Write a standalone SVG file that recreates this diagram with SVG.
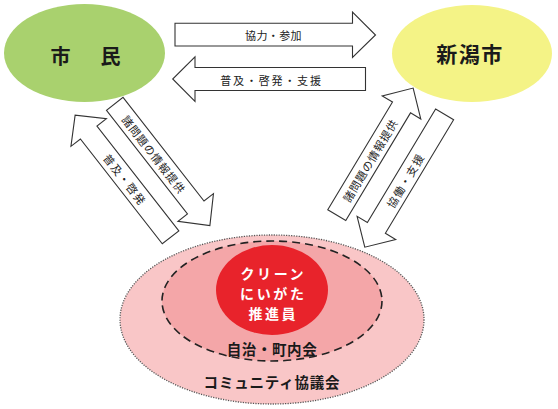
<svg xmlns="http://www.w3.org/2000/svg" width="558" height="409" viewBox="0 0 558 409">
<style>
.arrow{fill:#ffffff;stroke:#333333;stroke-width:1.1;stroke-linejoin:miter}
.lbl{font-family:"Noto Sans CJK JP","Noto Sans",sans-serif;font-size:11px;fill:#222222;text-anchor:middle;dominant-baseline:central}
.title{font-family:"Noto Sans CJK JP","Noto Sans",sans-serif;font-weight:bold;fill:#1a1a1a;text-anchor:middle;dominant-baseline:central}
.white{fill:#ffffff}
</style>
<rect width="558" height="409" fill="#ffffff"/>
<g id="shimin">
<ellipse cx="84.5" cy="53" rx="80.5" ry="49" fill="#a9d16e"/>
<text class="title" x="88" y="55" font-size="20" letter-spacing="5">市　民</text>
</g>
<g id="niigatashi">
<ellipse cx="472" cy="53.5" rx="80" ry="48.5" fill="#f4f386"/>
<text class="title" x="470" y="53" font-size="21" letter-spacing="1.5">新潟市</text>
</g>
<g id="community">
<ellipse cx="272" cy="319.5" rx="152" ry="84.5" fill="#f9c6c7" stroke="#555555" stroke-width="1.3" stroke-dasharray="1.2,1.3"/>
<text class="title" x="272" y="381" font-size="14.5" letter-spacing="0.8">コミュニティ協議会</text>
</g>
<g id="jichikai">
<ellipse cx="272" cy="301" rx="110" ry="60" fill="#f4a6a8" stroke="#222222" stroke-width="1.6" stroke-dasharray="8,5"/>
<text class="title" x="272" y="348" font-size="14.5" letter-spacing="0.6">自治・町内会</text>
</g>
<g id="clean">
<ellipse cx="272" cy="290" rx="56" ry="45" fill="#e8232b"/>
<text class="title white" font-size="14" letter-spacing="2.6"><tspan x="273.3" y="272.6">クリーン</tspan><tspan x="273.3" y="293">にいがた</tspan><tspan x="273.3" y="313.4">推進員</tspan></text>
</g>
<g id="connectors">
<g id="arrow-kyoryoku">
<polygon class="arrow" points="175,23.3 352.5,23.3 352.5,12 375.5,35 352.5,57.5 352.5,46 175,46"/>
<text class="lbl" x="273.5" y="35" font-size="11.5" letter-spacing="0.4">協力・参加</text>
</g>
<g id="arrow-fukyu-shien">
<polygon class="arrow" points="365.5,67.5 195,67.5 195,56.8 172.7,79 195,101.5 195,90.5 365.5,90.5"/>
<text class="lbl" x="271.5" y="79.5" font-size="11.5" letter-spacing="1.8">普及・啓発・支援</text>
</g>
<g transform="rotate(52)">
<g id="arrow-left-info">
<polygon class="arrow" points="152.5,-37 284,-37 284,-49 307,-26.5 284,-4 284,-16 152.5,-16"/>
<text class="lbl" x="216.5" y="-26.5" letter-spacing="0.9">諸問題の情報提供</text>
</g>
<g id="arrow-left-fukyu">
<polygon class="arrow" points="292,1.2 159,1.2 159,-10.8 137,11.7 159,34.2 159,22.2 292,22.2"/>
<text class="lbl" x="218.5" y="11.7" letter-spacing="1.3">普及・啓発</text>
</g>
</g>
<g transform="rotate(-59)">
<g id="arrow-right-info">
<polygon class="arrow" points="-11,389 114.7,389 114.7,377 137.3,399.5 114.7,422 114.7,410 -11,410"/>
<text class="lbl" x="53" y="399.5" letter-spacing="0.8">諸問題の情報提供</text>
</g>
<g id="arrow-right-kyodo">
<polygon class="arrow" points="131,429.5 -1.5,429.5 -1.5,417.5 -24,440 -1.5,462.5 -1.5,450.5 131,450.5"/>
<text class="lbl" x="54" y="440" letter-spacing="1.3">協働・支援</text>
</g>
</g>
</g>
</svg>
